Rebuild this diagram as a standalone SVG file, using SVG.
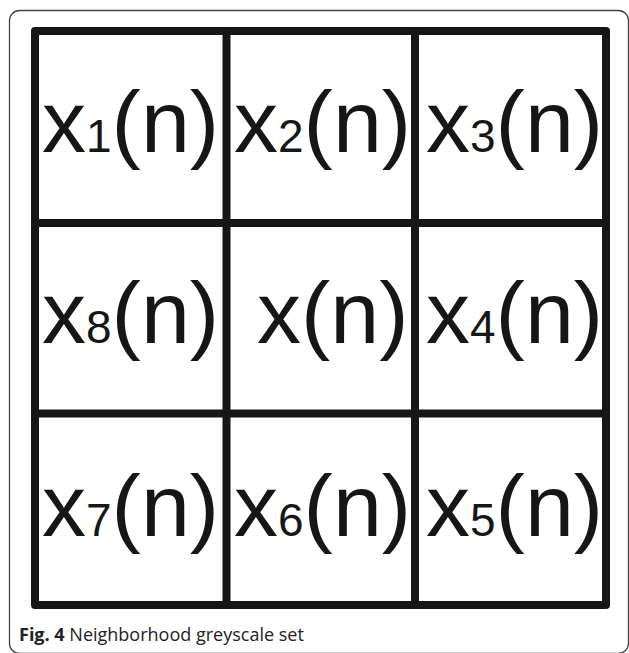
<svg xmlns="http://www.w3.org/2000/svg" width="629" height="653" viewBox="0 0 629 653">
<style>
.frame{fill:none;stroke:#444;stroke-width:1.3}
.grid{fill:none;stroke:#161616;stroke-width:8;stroke-linejoin:round;stroke-linecap:round}
.t{font-family:"Liberation Sans",Arial,sans-serif;font-size:88px;fill:#161616}
.s{font-size:46px}
.cap{font-family:"Open Sans","Noto Sans",sans-serif;font-size:18px;fill:#222}
</style>
<rect width="629" height="653" fill="#fff"/>
<rect class="frame" x="9.5" y="10.5" width="619" height="643" rx="10"/>
<g id="connectors">
<rect class="grid" x="35" y="31" width="571" height="574"/>
<line class="grid" x1="226.5" y1="31" x2="226.5" y2="605"/>
<line class="grid" x1="415" y1="31" x2="415" y2="605"/>
<line class="grid" x1="35" y1="223" x2="606" y2="223"/>
<line class="grid" x1="35" y1="413.5" x2="606" y2="413.5"/>
</g>
<g id="n1"><text class="t" x="42" y="152">x<tspan class="s">1</tspan>(n)</text></g>
<g id="n2"><text class="t" x="234" y="152">x<tspan class="s">2</tspan>(n)</text></g>
<g id="n3"><text class="t" x="426" y="152">x<tspan class="s">3</tspan>(n)</text></g>
<g id="n8"><text class="t" x="42" y="343">x<tspan class="s">8</tspan>(n)</text></g>
<g id="n0"><text class="t" x="257" y="343">x(n)</text></g>
<g id="n4"><text class="t" x="426" y="343">x<tspan class="s">4</tspan>(n)</text></g>
<g id="n7"><text class="t" x="42" y="536">x<tspan class="s">7</tspan>(n)</text></g>
<g id="n6"><text class="t" x="234" y="536">x<tspan class="s">6</tspan>(n)</text></g>
<g id="n5"><text class="t" x="426" y="536">x<tspan class="s">5</tspan>(n)</text></g>
<text class="cap" x="19" y="641"><tspan font-weight="bold">Fig. 4</tspan> Neighborhood greyscale set</text>
</svg>
